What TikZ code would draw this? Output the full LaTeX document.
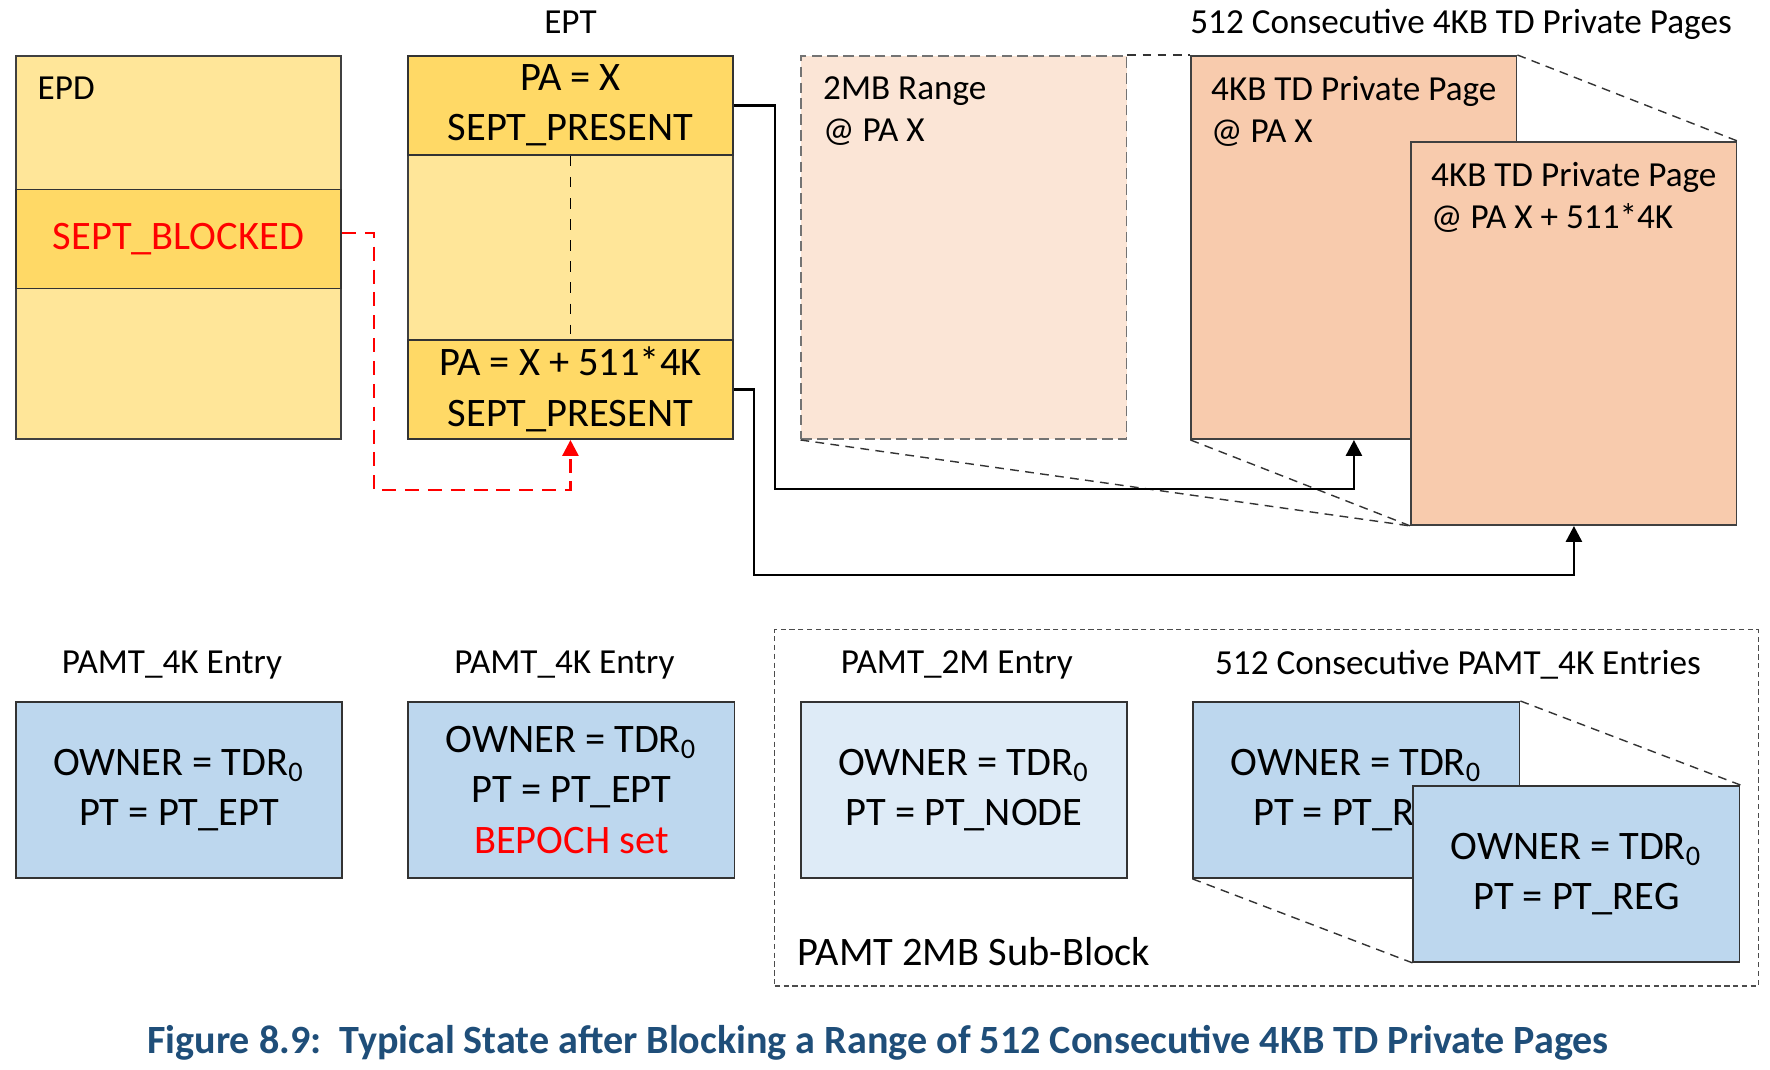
\documentclass[tikz,border=0pt]{standalone}
\usepackage{fontspec}
\setmainfont{Carlito}
\usepackage{tikz}
\usetikzlibrary{positioning, arrows.meta}

\definecolor{eptlight}{HTML}{FFE699}
\definecolor{eptgold}{HTML}{FFD966}
\definecolor{rangefill}{HTML}{FBE5D6}
\definecolor{pagefill}{HTML}{F8CBAD}
\definecolor{pamtblue}{HTML}{BDD7EE}
\definecolor{pamtpale}{HTML}{DEEBF7}
\definecolor{capblue}{HTML}{1F4E79}

\newcommand{\bigtxt}{\fontsize{11.5}{14.4}\selectfont}
\newcommand{\smalltxt}{\fontsize{10}{11.9}\selectfont}

\begin{document}
\begin{tikzpicture}[x=0.01cm, y=-0.01cm, >={Triangle[length=4.5pt, width=4.5pt]},
	tall/.style={draw=black!75, line width=.5pt, minimum width=3.25cm, minimum height=3.83cm, inner sep=0pt},
	slot/.style={draw=black!80, line width=.5pt, fill=eptgold, minimum width=3.25cm, minimum height=.99cm, align=center, inner sep=0pt, font=\bigtxt},
	pamt/.style={draw=black!80, line width=.5pt, fill=pamtblue, minimum width=3.26cm, minimum height=1.76cm, align=center, inner sep=0pt, font=\bigtxt},
	inlbl/.style={anchor=north west, align=left, inner sep=0pt, font=\smalltxt},
	fan/.style={draw=black!80, line width=.4pt, dash pattern=on 2.5pt off 1.8pt},
	link/.style={->, thick, black},
	blocklink/.style={->, thick, red, dash pattern=on 4pt off 2.5pt}]
%		\draw[help lines] (0,0) grid (1770,1070);
		\useasboundingbox (0,0) rectangle (1770,1070);

		\node (epd) at (15,55) [tall, anchor=north west, fill=eptlight] {};
		\node[right=.65cm of epd] (ept) [tall, fill=eptlight] {};
		\node[right=.665cm of ept] (range) [tall, fill=rangefill, draw=black!55, dash pattern=on 3pt off 1.5pt] {};
		\node[right=.63cm of range] (page1) [tall, fill=pagefill] {};
		\node (page2) at ([shift={(220,86)}]page1.center) [tall, fill=pagefill] {};

		\node (blocked) at ([yshift=-1.335cm]epd.north west) [slot, anchor=north west, text=red] {SEPT\_BLOCKED};
		\node (pax) at (ept.north) [slot, anchor=north] {PA = X\\SEPT\_PRESENT};
		\node (palast) at (ept.south) [slot, anchor=south] {PA = X + 511*4K\\SEPT\_PRESENT};
		\draw[dashed, thin] (pax.south) -- ([yshift=.05cm]palast.north);

		\node (epdlbl) at ([shift={(22,33)}]epd.north west) [anchor=west, inner sep=0pt, font=\smalltxt] {EPD};
		\node[inlbl] (rangelbl) at ([shift={(22,21)}]range.north west) {2MB Range\\@ PA X};
		\node[inlbl] (page1lbl) at ([shift={(20,21)}]page1.north west) {4KB TD Private Page\\@ PA X};
		\node[inlbl] (page2lbl) at ([shift={(20,21)}]page2.north west) {4KB TD Private Page\\@ PA X + 511*4K};

		\node (eptlbl) at ([yshift=.33cm]ept.north) [font=\smalltxt] {EPT};
		\node (pageslbl) at (1461,24) [font=\smalltxt] {512 Consecutive 4KB TD Private Pages};

		\draw[fan] (range.north east) -- (page1.north west);
		\draw[fan] (page1.north east) -- (page2.north east);
		\draw[fan] (range.south west) -- (page2.south west);
		\draw[fan] (page1.south west) -- (page2.south west);

		\coordinate (bend1) at (775,489);
		\coordinate (bend2) at (754,575);
		\coordinate (bend3) at (374,490);
		\draw[link] (pax.east) -| (bend1) -| (page1.south);
		\draw[link] (palast.east) -| (bend2) -| (page2.south);
		\draw[blocklink] ([yshift=.06cm]blocked.east) -| (bend3) -| (palast.south);

		\node (sub) at (774,629) [draw=black!70, line width=.4pt, dash pattern=on 1.5pt off 1pt, anchor=north west, minimum width=9.83cm, minimum height=3.56cm, inner sep=0pt] {};

		\node (pamta) at (15,701) [pamt, anchor=north west] {OWNER = TDR\textsubscript{0}\\PT = PT\_EPT};
		\node[right=.645cm of pamta] (pamtb) [pamt] {OWNER = TDR\textsubscript{0}\\PT = PT\_EPT\\\textcolor{red}{BEPOCH set}};
		\node[right=.645cm of pamtb] (pamtc) [pamt, fill=pamtpale] {OWNER = TDR\textsubscript{0}\\PT = PT\_NODE};
		\node[right=.645cm of pamtc] (pamtd) [pamt] {OWNER = TDR\textsubscript{0}\\PT = PT\_REG};
		\node (pamte) at ([shift={(220,84)}]pamtd.center) [pamt] {OWNER = TDR\textsubscript{0}\\PT = PT\_REG};

		\draw[fan] (pamtd.north east) -- (pamte.north east);
		\draw[fan] (pamtd.south west) -- (pamte.south west);

		\node (pamtalbl) at ([xshift=-.07cm, yshift=.36cm]pamta.north) [font=\smalltxt] {PAMT\_4K Entry};
		\node (pamtblbl) at ([xshift=-.07cm, yshift=.36cm]pamtb.north) [font=\smalltxt] {PAMT\_4K Entry};
		\node (pamtclbl) at ([xshift=-.07cm, yshift=.36cm]pamtc.north) [font=\smalltxt] {PAMT\_2M Entry};
		\node (pamtdlbl) at (1458,665) [font=\smalltxt] {512 Consecutive PAMT\_4K Entries};
		\node (sublbl) at ([shift={(23,-35)}]sub.south west) [anchor=west, inner sep=0pt, font=\bigtxt] {PAMT 2MB Sub-Block};

		\node (fig) at (878,1043) [font=\bfseries\fontsize{11.4}{13.5}\selectfont, text=capblue] {Figure 8.9:\ \ Typical State after Blocking a Range of 512 Consecutive 4KB TD Private Pages};
	\end{tikzpicture}
\end{document}
